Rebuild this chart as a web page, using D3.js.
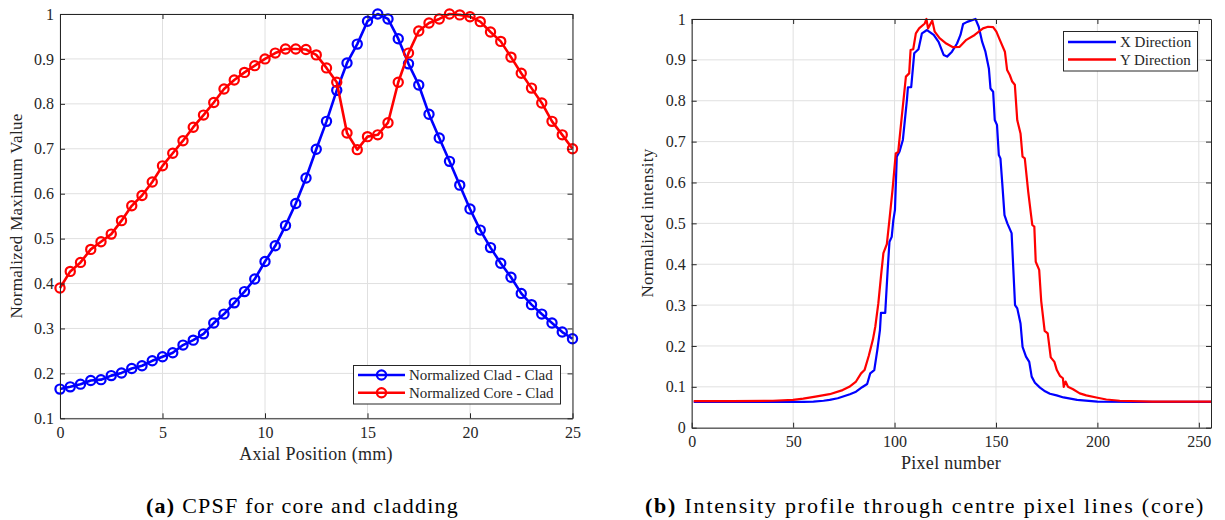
<!DOCTYPE html>
<html>
<head>
<meta charset="utf-8">
<script src="https://cdn.jsdelivr.net/npm/d3@7"></script>
<style>
  html, body { margin: 0; padding: 0; background: #fff; }
  svg { display: block; }
  text { font-family: "Liberation Serif", "Times New Roman", serif; fill: #262626; }
</style>
</head>
<body>
<svg id="chart" width="1225" height="520"></svg>
<script>
// ---------- Data: panel (a) ----------
const axialPos = [0,0.5,1,1.5,2,2.5,3,3.5,4,4.5,5,5.5,6,6.5,7,7.5,8,8.5,9,9.5,10,10.5,11,11.5,12,12.5,13,13.5,14,14.5,15,15.5,16,16.5,17,17.5,18,18.5,19,19.5,20,20.5,21,21.5,22,22.5,23,23.5,24,24.5,25];
const cladValues = [0.165,0.170,0.176,0.184,0.186,0.195,0.201,0.211,0.217,0.228,0.237,0.246,0.263,0.274,0.288,0.312,0.332,0.357,0.382,0.410,0.449,0.484,0.529,0.578,0.635,0.699,0.761,0.830,0.891,0.933,0.984,1.000,0.989,0.945,0.889,0.842,0.777,0.724,0.672,0.619,0.566,0.519,0.480,0.445,0.414,0.378,0.353,0.332,0.312,0.292,0.277];
const coreValues = [0.390,0.427,0.447,0.476,0.493,0.510,0.540,0.573,0.596,0.626,0.662,0.690,0.718,0.748,0.775,0.803,0.833,0.853,0.870,0.885,0.900,0.913,0.922,0.922,0.921,0.909,0.880,0.848,0.735,0.698,0.727,0.731,0.758,0.848,0.913,0.962,0.980,0.989,1.000,0.998,0.994,0.983,0.960,0.939,0.904,0.868,0.835,0.802,0.761,0.731,0.700];
const seriesA = ["Normalized Clad - Clad", "Normalized Core - Clad"];
const xTicksA = [0,5,10,15,20,25];
const yTicksA = [0.1,0.2,0.3,0.4,0.5,0.6,0.7,0.8,0.9,1];

// ---------- Data: panel (b) ----------
const xDirPixels = [1,20,40,55,60,65,68,72,75,78,81,84,86.5,88,90,91.5,92.8,93.3,95.4,96.6,97.5,98.6,99.4,100.2,101.1,102.4,104.1,106.1,106.6,108.2,109.7,111.8,113.5,116,119.3,121.7,124.2,125.9,128.3,130.8,132.5,133.8,135.8,139.9,141.5,143.2,144.8,146.5,147.3,148.6,149.4,150.5,151.4,152.2,153.1,154.2,155.6,157.7,159.4,160.5,162.1,163.1,164.8,166.4,167.6,169.2,171.7,174.2,176.6,179.9,183.3,190,200,220,256];
const xDirValues = [0.063,0.063,0.063,0.063,0.064,0.066,0.068,0.072,0.077,0.082,0.088,0.099,0.107,0.133,0.141,0.190,0.239,0.281,0.281,0.386,0.455,0.467,0.508,0.533,0.663,0.675,0.704,0.802,0.833,0.833,0.916,0.926,0.965,0.973,0.961,0.944,0.912,0.908,0.920,0.940,0.961,0.988,0.993,1.000,0.981,0.944,0.920,0.879,0.830,0.822,0.753,0.741,0.667,0.659,0.598,0.520,0.500,0.476,0.300,0.292,0.255,0.198,0.174,0.161,0.125,0.110,0.098,0.089,0.083,0.079,0.074,0.068,0.064,0.063,0.063];
const yDirPixels = [1,20,40,50,55,61,68,74.4,77.7,81,83.5,85.2,87.3,89.3,90.5,92,93.4,94.5,96.2,97.4,99,100.6,101.8,103.4,105.6,107.2,107.9,109.2,110.5,112.1,114.9,115.7,116.5,118.6,119.8,122.2,125.5,128.8,132.1,135.4,139.5,143.6,146.1,148.6,150.2,151.9,154.4,155.5,156.8,158,159.3,160.5,162.1,163.1,164.2,165.9,167.3,167.9,168.9,169.6,171.3,172.3,174,175.5,177,178.8,180,181.5,183,183.4,184.3,185.5,188,191.3,194.5,199.5,204.4,211,227,256];
const yDirValues = [0.065,0.065,0.066,0.068,0.071,0.076,0.082,0.092,0.100,0.113,0.133,0.141,0.176,0.215,0.247,0.304,0.375,0.427,0.449,0.505,0.582,0.671,0.675,0.753,0.859,0.867,0.924,0.926,0.965,0.977,0.989,1.000,0.977,0.996,0.969,0.953,0.940,0.931,0.932,0.949,0.961,0.977,0.981,0.980,0.969,0.949,0.920,0.875,0.863,0.847,0.839,0.752,0.720,0.663,0.659,0.577,0.520,0.496,0.492,0.406,0.386,0.310,0.237,0.231,0.172,0.161,0.141,0.127,0.121,0.100,0.113,0.100,0.094,0.084,0.079,0.074,0.069,0.066,0.064,0.064];
const seriesB = ["X Direction", "Y Direction"];
const xTicksB = [0,50,100,150,200,250];
const yTicksB = [0,0.1,0.2,0.3,0.4,0.5,0.6,0.7,0.8,0.9,1];

const BLUE = "#0000ff", RED = "#ff0000", AXIS = "#262626", GRID = "#e0e0e0";

const svg = d3.select("#chart");

function panel(opts) {
  const { x, y, xTicks, yTicks, fmtX, fmtY } = opts;
  const g = svg.append("g");
  const [x0, x1] = x.range(), [y0, y1] = y.range();
  // grid
  g.append("g").selectAll("line").data(xTicks).join("line")
    .attr("x1", d => x(d)).attr("x2", d => x(d)).attr("y1", y0).attr("y2", y1)
    .attr("stroke", GRID).attr("stroke-width", 1);
  g.append("g").selectAll("line").data(yTicks).join("line")
    .attr("y1", d => y(d)).attr("y2", d => y(d)).attr("x1", x0).attr("x2", x1)
    .attr("stroke", GRID).attr("stroke-width", 1);
  const plot = g.append("g");
  // axes
  const ax = [];
  ax.push(g.append("g").attr("transform", `translate(0,${y0})`)
    .call(d3.axisBottom(x).tickValues(xTicks).tickFormat(fmtX).tickSizeInner(-5).tickSizeOuter(0).tickPadding(8)));
  ax.push(g.append("g").attr("transform", `translate(0,${y1})`)
    .call(d3.axisTop(x).tickValues(xTicks).tickFormat("").tickSizeInner(-5).tickSizeOuter(0)));
  ax.push(g.append("g").attr("transform", `translate(${x0},0)`)
    .call(d3.axisLeft(y).tickValues(yTicks).tickFormat(fmtY).tickSizeInner(-5).tickSizeOuter(0).tickPadding(6)));
  ax.push(g.append("g").attr("transform", `translate(${x1},0)`)
    .call(d3.axisRight(y).tickValues(yTicks).tickFormat("").tickSizeInner(-5).tickSizeOuter(0)));
  ax.forEach(a => {
    a.selectAll("path,line").attr("stroke", AXIS).attr("stroke-width", 1);
    a.selectAll("text").attr("fill", AXIS).style("font-size", "16px")
      .style("font-family", '"Liberation Serif", serif');
  });
  return { g, plot };
}

// ---------- Panel (a) ----------
const xA = d3.scaleLinear().domain([0, 25]).range([60, 572.5]);
const yA = d3.scaleLinear().domain([0.1, 1]).range([418.3, 14]);
const pA = panel({ x: xA, y: yA, xTicks: xTicksA, yTicks: yTicksA,
  fmtX: d3.format("d"), fmtY: d => (d === 1 ? "1" : d3.format(".1f")(d)) });

const lineA = d3.line().x(d => xA(d[0])).y(d => yA(d[1]));
[[cladValues, BLUE], [coreValues, RED]].forEach(([vals, col]) => {
  const pts = axialPos.map((p, i) => [p, vals[i]]);
  pA.plot.append("path").datum(pts).attr("d", lineA)
    .attr("fill", "none").attr("stroke", col).attr("stroke-width", 2.6).attr("stroke-linejoin", "round");
  pA.plot.append("g").selectAll("circle").data(pts).join("circle")
    .attr("cx", d => xA(d[0])).attr("cy", d => yA(d[1])).attr("r", 4.6)
    .attr("fill", "none").attr("stroke", col).attr("stroke-width", 2.2);
});

// axis labels (a)
svg.append("text").attr("x", 316).attr("y", 460).attr("text-anchor", "middle")
  .style("font-size", "18px").style("letter-spacing", "0.3px").text("Axial Position (mm)");
svg.append("text").attr("transform", "translate(22,216) rotate(-90)").attr("text-anchor", "middle")
  .style("font-size", "17px").style("letter-spacing", "0.3px").text("Normalized Maximum Value");

// legend (a)
const legA = svg.append("g");
legA.append("rect").attr("x", 353.5).attr("y", 365.5).attr("width", 207).attr("height", 38.5)
  .attr("fill", "#fff").attr("stroke", AXIS).attr("stroke-width", 1);
seriesA.forEach((name, i) => {
  const yy = 375 + i * 17.7, col = i === 0 ? BLUE : RED;
  legA.append("line").attr("x1", 358).attr("x2", 405).attr("y1", yy).attr("y2", yy)
    .attr("stroke", col).attr("stroke-width", 2.6);
  legA.append("circle").attr("cx", 381.5).attr("cy", yy).attr("r", 4.6)
    .attr("fill", "none").attr("stroke", col).attr("stroke-width", 2.2);
  legA.append("text").attr("x", 409).attr("y", yy + 5).style("font-size", "15px").text(name);
});

// ---------- Panel (b) ----------
const xB = d3.scaleLinear().domain([0, 256]).range([691.7, 1211]);
const yB = d3.scaleLinear().domain([0, 1]).range([427.7, 19]);
const pB = panel({ x: xB, y: yB, xTicks: xTicksB, yTicks: yTicksB,
  fmtX: d3.format("d"), fmtY: d => (d === 0 || d === 1 ? String(d) : d3.format(".1f")(d)) });

const lineB = d3.line().x(d => xB(d[0])).y(d => yB(d[1]));
[[xDirPixels, xDirValues, BLUE], [yDirPixels, yDirValues, RED]].forEach(([px, vals, col]) => {
  const pts = px.map((p, i) => [p, vals[i]]);
  pB.plot.append("path").datum(pts).attr("d", lineB)
    .attr("fill", "none").attr("stroke", col).attr("stroke-width", 2.2).attr("stroke-linejoin", "round");
});

svg.append("text").attr("x", 951).attr("y", 469).attr("text-anchor", "middle")
  .style("font-size", "18px").style("letter-spacing", "0.3px").text("Pixel number");
svg.append("text").attr("transform", "translate(653,223) rotate(-90)").attr("text-anchor", "middle")
  .style("font-size", "17px").style("letter-spacing", "0.3px").text("Normalized intensity");

const legB = svg.append("g");
legB.append("rect").attr("x", 1063.5).attr("y", 31.5).attr("width", 134).attr("height", 39.5)
  .attr("fill", "#fff").attr("stroke", AXIS).attr("stroke-width", 1);
seriesB.forEach((name, i) => {
  const yy = 42 + i * 17.5, col = i === 0 ? BLUE : RED;
  legB.append("line").attr("x1", 1068).attr("x2", 1116).attr("y1", yy).attr("y2", yy)
    .attr("stroke", col).attr("stroke-width", 2.6);
  legB.append("text").attr("x", 1120).attr("y", yy + 5).style("font-size", "15px").text(name);
});

// ---------- Captions ----------
function caption(cx, label, rest, spacing) {
  const t = svg.append("text").attr("x", cx).attr("y", 513).attr("text-anchor", "middle")
    .style("font-size", "22px").style("letter-spacing", spacing + "px").style("fill", "#000");
  t.append("tspan").style("font-weight", "bold").text(label);
  t.append("tspan").text(" " + rest);
}
caption(302.5, "(a)", "CPSF for core and cladding", 1.25);
caption(925, "(b)", "Intensity profile through centre pixel lines (core)", 1.8);
</script>
</body>
</html>
